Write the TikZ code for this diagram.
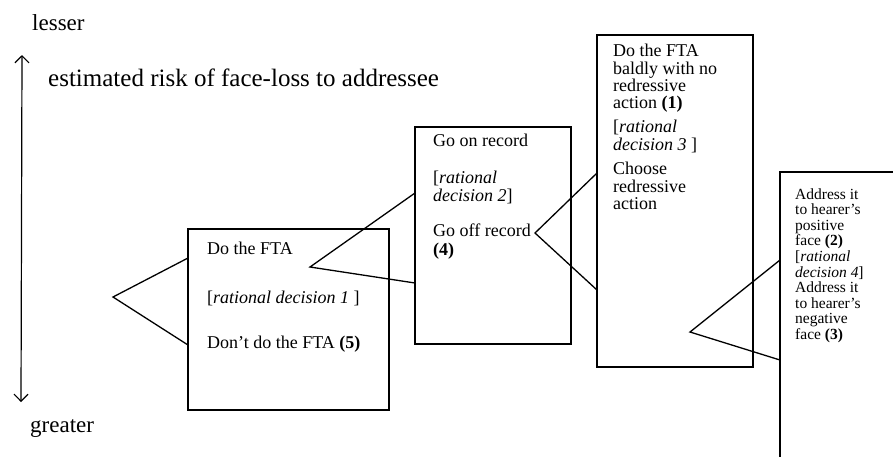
\documentclass[tikz,border=0pt]{standalone}
\usepackage{fontspec}
\setmainfont{Liberation Serif}
\usetikzlibrary{arrows.meta}
\begin{document}
\begin{tikzpicture}[x=1pt,y=-1pt,
  box/.style={draw, line width=1.5pt, anchor=north west, inner sep=0pt, outer sep=0pt},
  txt/.style={anchor=north west, inner sep=0pt, align=left, font=\fontsize{18}{17}\selectfont},
  txtb/.style={anchor=north west, inner sep=0pt, align=left, font=\fontsize{15.5}{15.6}\selectfont},
  lbl/.style={anchor=base west, inner sep=0pt, font=\fontsize{23}{25}\selectfont},
  tri/.style={line width=1.3pt},
  axis/.style={line width=1.2pt, {Straight Barb[length=7pt,width=14pt]}-{Straight Barb[length=7pt,width=14pt]}}]
\useasboundingbox (0,0) rectangle (893,456);

% labels and axis
\node[lbl] (lesser) at (32,30) {lesser};
\node[lbl, font=\fontsize{25}{27}\selectfont] (risk) at (48,86) {estimated risk of face-loss to addressee};
\node[lbl] (greater) at (30,432) {greater};
\coordinate (atop) at (22,55);
\coordinate (abot) at (21,402);
\draw[axis] (abot) -- (atop);

% boxes
\node[box, minimum width=201pt, minimum height=181pt] (b1) at (188,229) {};
\node[box, minimum width=156pt, minimum height=217pt] (b2) at (415,127) {};
\node[box, minimum width=156pt, minimum height=332pt] (b3) at (597,35) {};
\begin{scope}
\clip (0,0) rectangle (893,456);
\node[box, minimum width=140pt, minimum height=300pt] (b4) at (780,172) {};
\end{scope}

% box 1 text
\node[txt] (t1a) at (207,241.6) {\strut Do the FTA};
\node[txt] (t1b) at (207,290.6) {\strut[\textit{rational decision 1} ]};
\node[txt] (t1c) at (207,335.6) {\strut Don’t do the FTA \textbf{(5)}};

% box 2 text
\node[txt] (t2a) at (433,133.6) {\strut Go on record};
\node[txt] (t2b) at (433,170.6) {\strut[\textit{rational}\\\textit{decision 2}]};
\node[txt] (t2c) at (433,223.6) {\strut Go off record\\\textbf{(4)}};

% box 3 text
\node[txt] (t3a) at (613,43.6) {\strut Do the FTA\\baldly with no\\redressive\\action \textbf{(1)}};
\node[txt] (t3b) at (613,119.6) {\strut[\textit{rational}\\\textit{decision 3} ]};
\node[txt] (t3c) at (613,161.6) {\strut Choose\\redressive\\action};

% box 4 text
\node[txtb] (t4) at (795,188) {\strut Address it\\to hearer’s\\positive\\face \textbf{(2)}\\{}[\textit{rational}\\\textit{decision 4}]\\Address it\\to hearer’s\\negative\\face \textbf{(3)}};

% branching triangles
\coordinate (v1) at (113,297);
\path (b1.north west) ++(0,29) coordinate (p1a);
\path (b1.north west) ++(0,116) coordinate (p1b);
\draw[tri] (p1a) -- (v1) -- (p1b);

\coordinate (v2) at (310,267);
\path (b2.north west) ++(0,66) coordinate (p2a);
\path (b2.north west) ++(0,156) coordinate (p2b);
\draw[tri] (p2a) -- (v2) -- (p2b);

\coordinate (v3) at (535,233);
\path (b3.north west) ++(0,138) coordinate (p3a);
\path (b3.north west) ++(0,255) coordinate (p3b);
\draw[tri] (p3a) -- (v3) -- (p3b);

\coordinate (v4) at (690,332);
\path (b4.north west) ++(0,88) coordinate (p4a);
\path (b4.north west) ++(0,188) coordinate (p4b);
\draw[tri] (p4a) -- (v4) -- (p4b);
\end{tikzpicture}
\end{document}
